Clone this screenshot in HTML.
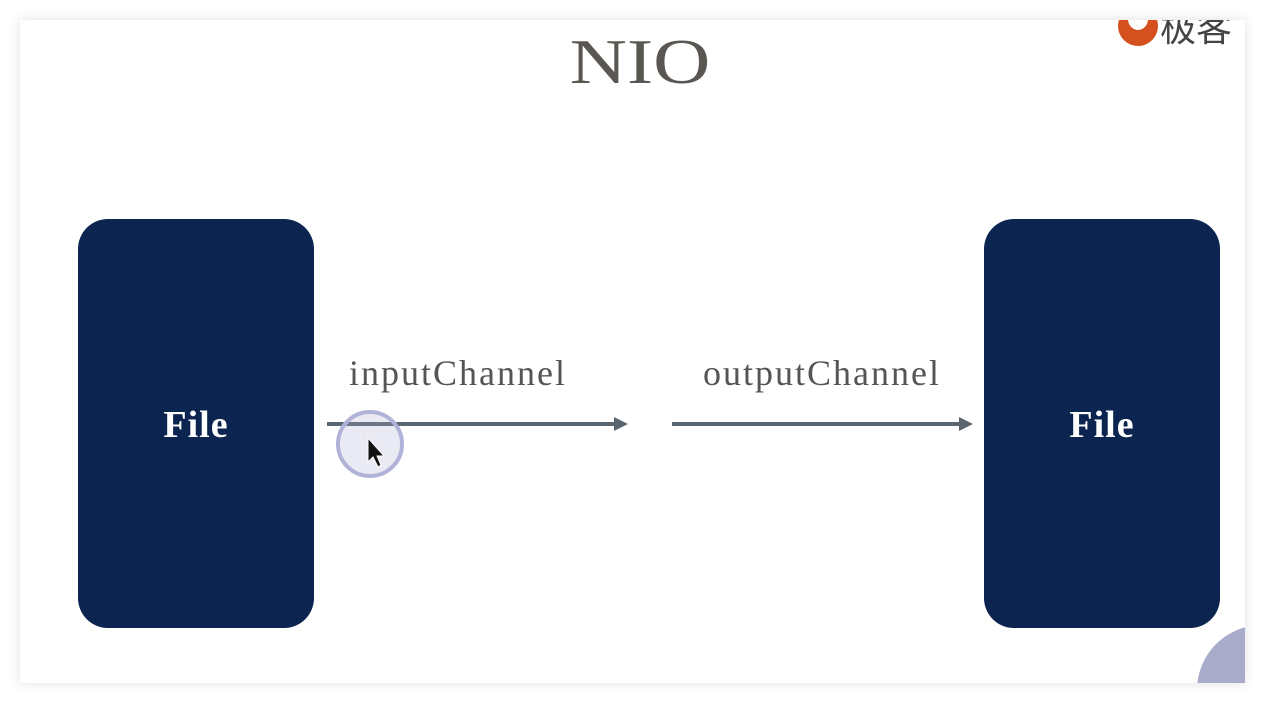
<!DOCTYPE html>
<html><head><meta charset="utf-8"><style>
html,body{margin:0;width:1266px;height:703px;overflow:hidden}
body{background:#fff;position:relative;font-family:"Liberation Serif",serif}
.slide{position:absolute;left:20px;top:20px;width:1225px;height:663px;background:#fff;box-shadow:0 0 12px rgba(0,0,0,0.12)}
.box{position:absolute;top:219px;width:236px;height:409px;background:#0b2550;border-radius:30px;color:#fff;font-weight:bold;font-size:38px;letter-spacing:1px;display:flex;align-items:center;justify-content:center;box-sizing:border-box;padding-top:2px}
.t{position:absolute;color:#555;font-size:36px;letter-spacing:2px;white-space:nowrap}
</style></head><body>
<div class="slide"></div>
<div class="t" style="left:540px;width:200px;text-align:center;top:22px;font-size:72px;letter-spacing:0;color:#5a5753;line-height:80px;transform:scale(1.1,0.88);transform-origin:50% 50%">NIO</div>
<div style="position:absolute;left:1116px;top:20px;width:130px;height:30px;overflow:hidden">
<span style="position:absolute;left:2px;top:-14px;width:40px;height:40px;border-radius:50%;background:#d4501e"></span>
<span style="position:absolute;left:12px;top:-12px;width:20px;height:22px;border-radius:50%;background:#fff"></span>
<span style="position:absolute;left:44px;top:-14px;font-size:36px;color:#444;font-family:'Noto Sans CJK SC',sans-serif;line-height:40px">极客</span>
</div>
<div class="box" style="left:78px">File</div>
<div class="box" style="left:984px">File</div>
<div class="t" style="left:349px;top:352px">inputChannel</div>
<div class="t" style="left:703px;top:352px">outputChannel</div>
<svg style="position:absolute;left:0;top:0" width="1266" height="703">
<line x1="327" y1="424" x2="616" y2="424" stroke="#5a6670" stroke-width="4"/>
<polygon points="628,424 614,417 614,431" fill="#5a6670"/>
<line x1="672" y1="424" x2="961" y2="424" stroke="#5a6670" stroke-width="4"/>
<polygon points="973,424 959,417 959,431" fill="#5a6670"/>
<circle cx="370" cy="444" r="32" fill="#a9abd0" opacity="0.25"/>
<circle cx="370" cy="444" r="32" fill="none" stroke="#b0b2d8" stroke-width="4"/>
<polygon points="368,438 368,462 373,457 378,467 381,465 377,456 384,456" fill="#111" stroke="#fff" stroke-width="1"/>
<clipPath id="c"><rect x="20" y="20" width="1225" height="663"/></clipPath>
<circle cx="1262" cy="690" r="65" fill="#a9abcb" clip-path="url(#c)"/>
</svg>
</body></html>
